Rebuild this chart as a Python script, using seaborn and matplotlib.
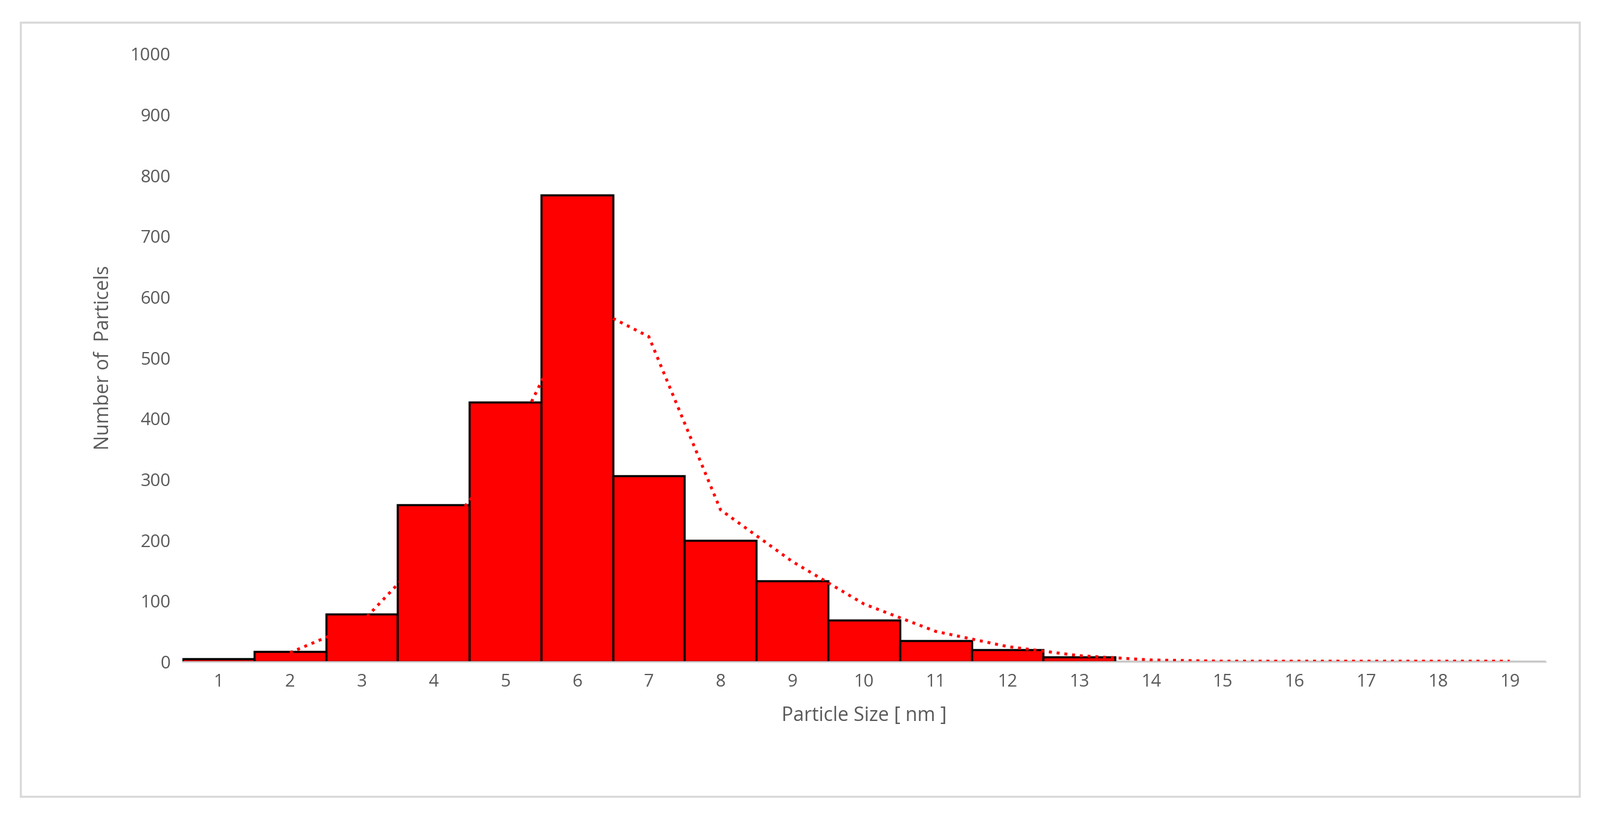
import matplotlib
matplotlib.use("Agg")
import matplotlib.pyplot as plt
import seaborn as sns
import pandas as pd
from matplotlib.patches import Rectangle

sizes = list(range(1, 20))
counts = [5, 17, 78, 258, 427, 768, 306, 200, 133, 68, 35, 20, 8, 0, 0, 0, 0, 0, 0]
fit_x = [2, 3, 4, 5, 5.5, 6, 6.5, 7, 8, 9, 10, 11, 12, 13, 14, 15, 16, 17, 18, 19]
fit_y = [15, 65, 190, 340, 460, 590, 565, 535, 250, 165, 95, 50, 25, 10, 3, 1, 1, 1, 1, 1]

df = pd.DataFrame({"size": sizes, "count": counts})
fit = pd.DataFrame({"x": fit_x, "y": fit_y})

plt.rcParams["font.family"] = "Open Sans"
fig = plt.figure(figsize=(26.49, 13.53), dpi=100)
fig.patches.append(Rectangle((0.013, 0.025), 0.974, 0.948, transform=fig.transFigure,
                             fill=False, edgecolor="#d9d9d9", linewidth=2.5))
ax = fig.add_axes([0.114, 0.19, 0.852, 0.744])
sns.barplot(data=df, x="size", y="count", native_scale=True, width=1.0,
            color="#ff0000", edgecolor="black", linewidth=2.5, saturation=1, ax=ax)
sns.lineplot(data=fit, x="x", y="y", color="#ff0000", linestyle=":", linewidth=3.5, ax=ax)
ax.set_xlim(0.5, 19.5)
ax.set_ylim(0, 1000)
ax.set_xticks(sizes)
ax.set_yticks(range(0, 1001, 100))
for s in ["top", "right", "left"]:
    ax.spines[s].set_visible(False)
ax.spines["bottom"].set_color("#d9d9d9")
ax.spines["bottom"].set_linewidth(2)
ax.tick_params(length=0, labelsize=21, colors="#595959", pad=14)
ax.set_xlabel("Particle Size [ nm ]", fontsize=23, color="#595959", labelpad=18)
ax.set_ylabel("Number of  Particels", fontsize=23, color="#595959", labelpad=20)
fig.savefig("out.png", dpi=100)
